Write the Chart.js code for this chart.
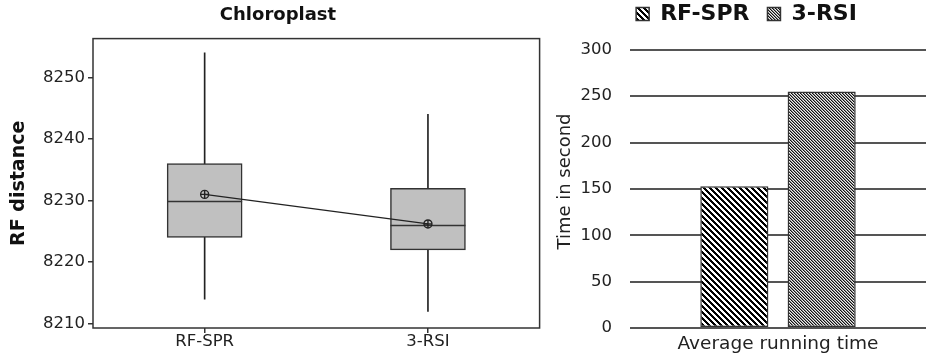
<!DOCTYPE html>
<html>
<head>
<meta charset="utf-8">
<script src="https://cdn.jsdelivr.net/npm/chart.js@4.4.0/dist/chart.umd.min.js"></script>
<style>
    html, body { margin: 0; padding: 0; background: #fff; }
    #wrap { position: relative; width: 926px; height: 360px; }
    #boxWrap { position: absolute; left: 0; top: 0; width: 545px; height: 360px; }
    #barWrap { position: absolute; left: 545px; top: 0; width: 381px; height: 360px; }
</style>
</head>
<body>
<div id="wrap">
    <div id="boxWrap"><canvas id="boxChart"></canvas></div>
    <div id="barWrap"><canvas id="timeChart"></canvas></div>
</div>
<script>
// Chloroplast box plot data
const boxCategories = ['RF-SPR', '3-RSI'];
const whiskerLow = [8214, 8212];
const quartile1 = [8224, 8222];
const medians = [8230, 8226];
const quartile3 = [8236, 8232];
const whiskerHigh = [8254, 8244];
const means = [8231, 8226.2];
const rfTicks = [8210, 8220, 8230, 8240, 8250];

// Running time data
const timeCategories = ['Average running time'];
const timeRfSpr = [153];
const time3Rsi = [255];
const timeTicks = [0, 50, 100, 150, 200, 250, 300];

const FONT = "'DejaVu Sans', Verdana, sans-serif";
const INK = '#222';

Chart.defaults.font.family = FONT;
Chart.defaults.color = INK;
Chart.defaults.animation = false;

// Hatch patterns for the bars
function makePattern(size, colorFor) {
    const c = document.createElement('canvas');
    c.width = size;
    c.height = size;
    const g = c.getContext('2d');
    for (let x = 0; x < size; x++) {
        for (let y = 0; y < size; y++) {
            g.fillStyle = colorFor(((x - y) % size + size) % size);
            g.fillRect(x, y, 1, 1);
        }
    }
    return g.createPattern(c, 'repeat');
}

const stripePattern = makePattern(6, k => k < 3 ? '#000' : '#fff');
const finePattern = makePattern(3, k => ['#111', '#888', '#eee'][k]);

// Draws median lines and the frame of the box plot
const boxExtras = {
    id: 'boxExtras',
    afterDatasetDraw(chart, args) {
        if (chart.data.datasets[args.index].label !== 'box') return;
        const ctx = chart.ctx;
        const y = chart.scales.y;
        ctx.save();
        ctx.strokeStyle = '#333';
        ctx.lineWidth = 1.5;
        args.meta.data.forEach((bar, i) => {
            const half = bar.width / 2;
            const py = Math.round(y.getPixelForValue(medians[i])) + 0.5;
            ctx.beginPath();
            ctx.moveTo(bar.x - half, py);
            ctx.lineTo(bar.x + half, py);
            ctx.stroke();
        });
        ctx.restore();
    },
    afterDraw(chart) {
        const a = chart.chartArea;
        const ctx = chart.ctx;
        ctx.save();
        ctx.strokeStyle = '#333';
        ctx.lineWidth = 1.5;
        ctx.strokeRect(a.left, a.top, a.right - a.left, a.bottom - a.top);
        ctx.restore();
    }
};

new Chart(document.getElementById('boxChart'), {
    data: {
        labels: boxCategories,
        datasets: [
            {
                type: 'line',
                label: 'mean',
                data: means,
                borderColor: '#222',
                borderWidth: 1.3,
                pointStyle: 'circle',
                pointRadius: 4,
                pointBackgroundColor: 'rgba(0,0,0,0)',
                pointBorderColor: '#222',
                pointBorderWidth: 1.4,
                order: 0
            },
            {
                type: 'line',
                label: 'meanCross',
                data: means,
                showLine: false,
                pointStyle: 'cross',
                pointRadius: 4,
                pointBorderColor: '#222',
                pointBorderWidth: 1.4,
                order: 0
            },
            {
                type: 'bar',
                label: 'box',
                data: quartile1.map((v, i) => [v, quartile3[i]]),
                backgroundColor: '#c0c0c0',
                borderColor: '#333',
                borderWidth: 1.5,
                borderSkipped: false,
                barThickness: 75,
                grouped: false,
                order: 1
            },
            {
                type: 'bar',
                label: 'whisker',
                data: whiskerLow.map((v, i) => [v, whiskerHigh[i]]),
                backgroundColor: '#222',
                barThickness: 1,
                grouped: false,
                order: 2
            }
        ]
    },
    options: {
        responsive: true,
        maintainAspectRatio: false,
        layout: { padding: { left: 16, right: 5, top: 0, bottom: 0 } },
        plugins: {
            legend: { display: false },
            tooltip: { enabled: false },
            title: {
                display: true,
                text: 'Chloroplast',
                font: { size: 18, weight: 'bold' },
                color: '#111',
                padding: { top: 5, bottom: 12 }
            }
        },
        scales: {
            x: {
                type: 'category',
                offset: true,
                border: { display: false },
                grid: { display: true, offset: false, drawOnChartArea: false, drawTicks: true, tickLength: 5, color: '#333', lineWidth: 1.5 },
                ticks: { font: { size: 16.5 }, color: INK, padding: -1 },
                afterFit(scale) { scale.height = 32; }
            },
            y: {
                type: 'linear',
                min: 8209.3,
                max: 8256.3,
                border: { display: false },
                grid: { display: true, drawOnChartArea: false, drawTicks: true, tickLength: 5, color: '#333', lineWidth: 1.5 },
                afterBuildTicks(scale) { scale.ticks = rfTicks.map(v => ({ value: v })); },
                ticks: { font: { size: 16.5 }, color: INK, padding: 3, callback: v => String(v) },
                title: {
                    display: true,
                    text: 'RF distance',
                    font: { size: 19, weight: 'bold' },
                    color: '#111',
                    padding: { top: -8.5, bottom: 0 }
                },
                afterFit(scale) { scale.width = 77; }
            }
        }
    },
    plugins: [boxExtras]
});

new Chart(document.getElementById('timeChart'), {
    type: 'bar',
    data: {
        labels: timeCategories,
        datasets: [
            {
                label: 'RF-SPR',
                data: timeRfSpr,
                backgroundColor: stripePattern,
                borderColor: '#333',
                borderWidth: 1.5,
                borderSkipped: false
            },
            {
                label: '3-RSI',
                data: time3Rsi,
                backgroundColor: finePattern,
                borderColor: '#333',
                borderWidth: 1.5,
                borderSkipped: false
            }
        ]
    },
    options: {
        responsive: true,
        maintainAspectRatio: false,
        categoryPercentage: 0.59,
        barPercentage: 0.78,
        layout: { padding: { left: 22, right: 0, top: -15, bottom: 0 } },
        plugins: {
            tooltip: { enabled: false },
            legend: {
                display: true,
                position: 'top',
                labels: {
                    boxWidth: 13,
                    boxHeight: 13,
                    padding: 18,
                    color: '#111',
                    font: { size: 22, weight: 'bold' }
                }
            }
        },
        scales: {
            x: {
                border: { display: false },
                grid: { display: false },
                ticks: { font: { size: 18.5 }, color: INK, padding: -3 },
                afterFit(scale) { scale.height = 32; }
            },
            y: {
                min: 0,
                max: 316,
                border: { display: false },
                grid: { color: '#555', lineWidth: 2, drawTicks: false },
                afterBuildTicks(scale) { scale.ticks = timeTicks.map(v => ({ value: v })); },
                ticks: { font: { size: 16.5 }, color: INK, padding: 18 },
                title: {
                    display: true,
                    text: 'Time in second',
                    font: { size: 18 },
                    color: INK,
                    padding: { top: -12, bottom: 0 }
                },
                afterFit(scale) { scale.width = 63; }
            }
        }
    }
});
</script>
</body>
</html>
